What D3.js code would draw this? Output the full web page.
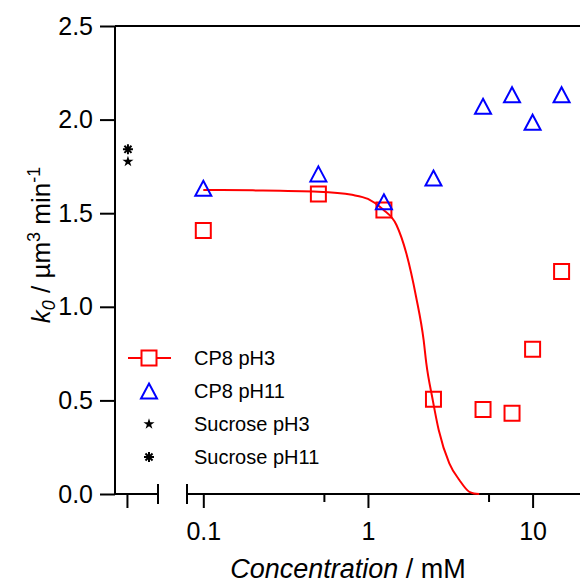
<!DOCTYPE html>
<html>
<head>
<meta charset="utf-8">
<script src="https://cdn.jsdelivr.net/npm/d3@7"></script>
<style>
  body { margin: 0; background: #fff; }
  svg { display: block; font-family: "Liberation Sans", Arial, sans-serif; }
  .axis line, .axis path { stroke: #000; stroke-width: 2; }
  .axis text { fill: #000; font-size: 25px; }
</style>
</head>
<body>
<svg width="580" height="584"></svg>
<script>
// CP8 data (concentration in mM)
const concCP8 = [0.1, 0.5, 1.25, 2.5, 5, 7.5, 10, 15];
const k0CP8pH3 = [1.407, 1.603, 1.517, 0.506, 0.452, 0.431, 0.773, 1.188];
const k0CP8pH11 = [1.633, 1.710, 1.561, 1.688, 2.071, 2.133, 1.986, 2.133];

// sucrose reference, shown on the left (broken) segment
const k0SucrosepH3 = [1.776];
const k0SucrosepH11 = [1.841];

// fitted curve for CP8 pH3
const fitConc = [0.1, 0.2, 0.5, 0.8, 1.0, 1.23, 1.49, 1.71, 1.96, 2.18, 2.26, 2.47, 2.69, 3.12, 3.59, 4.12, 4.4, 4.74];
const fitK0 = [1.624, 1.622, 1.615, 1.598, 1.576, 1.521, 1.437, 1.286, 1.054, 0.82, 0.70, 0.506, 0.342, 0.164, 0.075, 0.012, 0.003, 0.0];

const yTicks = [0, 0.5, 1, 1.5, 2, 2.5];
const xTicks = [0.1, 1, 10];
const xMinorTicks = [0.54, 5.4];
const legendLabels = ['CP8 pH3', 'CP8 pH11', 'Sucrose pH3', 'Sucrose pH11'];

const svg = d3.select('svg');

const y = d3.scaleLinear().domain([0, 2.5]).range([494, 26]);
const x = d3.scaleLog().domain([0.1, 10]).range([203.3, 532.6]);
// left segment of the broken axis
const xLeft = d3.scaleLinear().domain([-0.5, 1.3]).range([115, 158]);

const red = '#ff0000';
const blue = '#0000ff';

// marker shapes
const square = s => `M${-s / 2},${-s / 2}h${s}v${s}h${-s}Z`;
const triangle = (w, h) => `M0,${-h / 2}L${w / 2},${h / 2}L${-w / 2},${h / 2}Z`;
const asterisk = r => {
  const a = r * Math.SQRT1_2;
  return `M${-r},0H${r}M0,${-r}V${r}M${-a},${-a}L${a},${a}M${-a},${a}L${a},${-a}`;
};
const star = d3.symbol(d3.symbolStar, 38)();

// y axis
const yAxisG = svg.append('g')
  .attr('class', 'axis')
  .attr('transform', 'translate(115,0)')
  .call(d3.axisLeft(y).tickValues(yTicks).tickSize(15).tickPadding(7)
    .tickFormat(d3.format('.1f')));
yAxisG.select('.domain').remove();
yAxisG.append('line')
  .attr('x1', 0).attr('x2', 0)
  .attr('y1', y(2.5)).attr('y2', y(0));

// top frame
svg.append('line')
  .attr('x1', 115).attr('x2', 580)
  .attr('y1', y(2.5)).attr('y2', y(2.5))
  .attr('stroke', '#000').attr('stroke-width', 2);

// bottom axis, left segment
const xLeftG = svg.append('g')
  .attr('class', 'axis')
  .attr('transform', `translate(0,${y(0)})`)
  .call(d3.axisBottom(xLeft).tickValues([0]).tickSize(14).tickFormat(''));
xLeftG.select('.domain').remove();
xLeftG.append('line').attr('x1', 115).attr('x2', 158);
xLeftG.append('line').attr('x1', 158).attr('x2', 158).attr('y1', -10).attr('y2', 10);

// bottom axis, log segment
const xG = svg.append('g')
  .attr('class', 'axis')
  .attr('transform', `translate(0,${y(0)})`)
  .call(d3.axisBottom(x).tickValues(xTicks).tickSize(14).tickPadding(14)
    .tickFormat(d3.format('~g')));
xG.select('.domain').remove();
xG.append('line').attr('x1', 187).attr('x2', 580);
xG.append('line').attr('x1', 187).attr('x2', 187).attr('y1', -10).attr('y2', 10);

const xMinorG = svg.append('g')
  .attr('class', 'axis')
  .attr('transform', `translate(0,${y(0)})`)
  .call(d3.axisBottom(x).tickValues(xMinorTicks).tickSize(8).tickFormat(''));
xMinorG.select('.domain').remove();

// axis titles
const xTitle = svg.append('text')
  .attr('x', 348).attr('y', 578)
  .attr('text-anchor', 'middle')
  .attr('font-size', 27);
xTitle.append('tspan').attr('font-style', 'italic').text('Concentration');
xTitle.append('tspan').text(' / mM');

const yTitle = svg.append('text')
  .attr('transform', 'translate(50,245) rotate(-90)')
  .attr('text-anchor', 'middle')
  .attr('font-size', 26);
yTitle.append('tspan').attr('font-style', 'italic').text('k');
yTitle.append('tspan').attr('font-style', 'italic').attr('font-size', 18).attr('dy', 5).text('0');
yTitle.append('tspan').attr('dy', -5).text(' / \u00b5m');
yTitle.append('tspan').attr('font-size', 18).attr('dy', -10).text('3');
yTitle.append('tspan').attr('dy', 10).text(' min');
yTitle.append('tspan').attr('font-size', 18).attr('dy', -10).text('-1');

// fit line
const line = d3.line()
  .x(d => x(d[0]))
  .y(d => y(d[1]))
  .curve(d3.curveMonotoneX);

svg.append('path')
  .datum(d3.zip(fitConc, fitK0))
  .attr('d', line)
  .attr('fill', 'none')
  .attr('stroke', red)
  .attr('stroke-width', 2);

// CP8 pH3 squares
svg.append('g').selectAll('path')
  .data(d3.zip(concCP8, k0CP8pH3))
  .join('path')
  .attr('transform', d => `translate(${x(d[0])},${y(d[1])})`)
  .attr('d', square(15))
  .attr('fill', 'none')
  .attr('stroke', red)
  .attr('stroke-width', 2);

// CP8 pH11 triangles
svg.append('g').selectAll('path')
  .data(d3.zip(concCP8, k0CP8pH11))
  .join('path')
  .attr('transform', d => `translate(${x(d[0])},${y(d[1])})`)
  .attr('d', triangle(16, 15))
  .attr('fill', 'none')
  .attr('stroke', blue)
  .attr('stroke-width', 2);

// sucrose points
svg.append('g').selectAll('path')
  .data(k0SucrosepH3)
  .join('path')
  .attr('transform', d => `translate(${xLeft(0) + 1},${y(d)})`)
  .attr('d', star)
  .attr('fill', '#000');

svg.append('g').selectAll('path')
  .data(k0SucrosepH11)
  .join('path')
  .attr('transform', d => `translate(${xLeft(0) + 1},${y(d)})`)
  .attr('d', asterisk(5))
  .attr('stroke', '#000')
  .attr('stroke-width', 2);

// legend
const legend = svg.append('g').attr('transform', 'translate(149,358)');
const rowGap = 33;

legend.append('line')
  .attr('x1', -21).attr('x2', 22)
  .attr('stroke', red).attr('stroke-width', 2);
legend.append('path')
  .attr('d', square(15))
  .attr('fill', '#fff').attr('stroke', red).attr('stroke-width', 2);
legend.append('path')
  .attr('transform', `translate(0,${rowGap})`)
  .attr('d', triangle(16, 15))
  .attr('fill', 'none').attr('stroke', blue).attr('stroke-width', 2);
legend.append('path')
  .attr('transform', `translate(0,${rowGap * 2})`)
  .attr('d', star)
  .attr('fill', '#000');
legend.append('path')
  .attr('transform', `translate(0,${rowGap * 3})`)
  .attr('d', asterisk(5))
  .attr('stroke', '#000').attr('stroke-width', 2);

legend.selectAll('text')
  .data(legendLabels)
  .join('text')
  .attr('x', 45)
  .attr('y', (d, i) => i * rowGap)
  .attr('dy', '0.35em')
  .attr('font-size', 20)
  .text(d => d);
</script>
</body>
</html>
